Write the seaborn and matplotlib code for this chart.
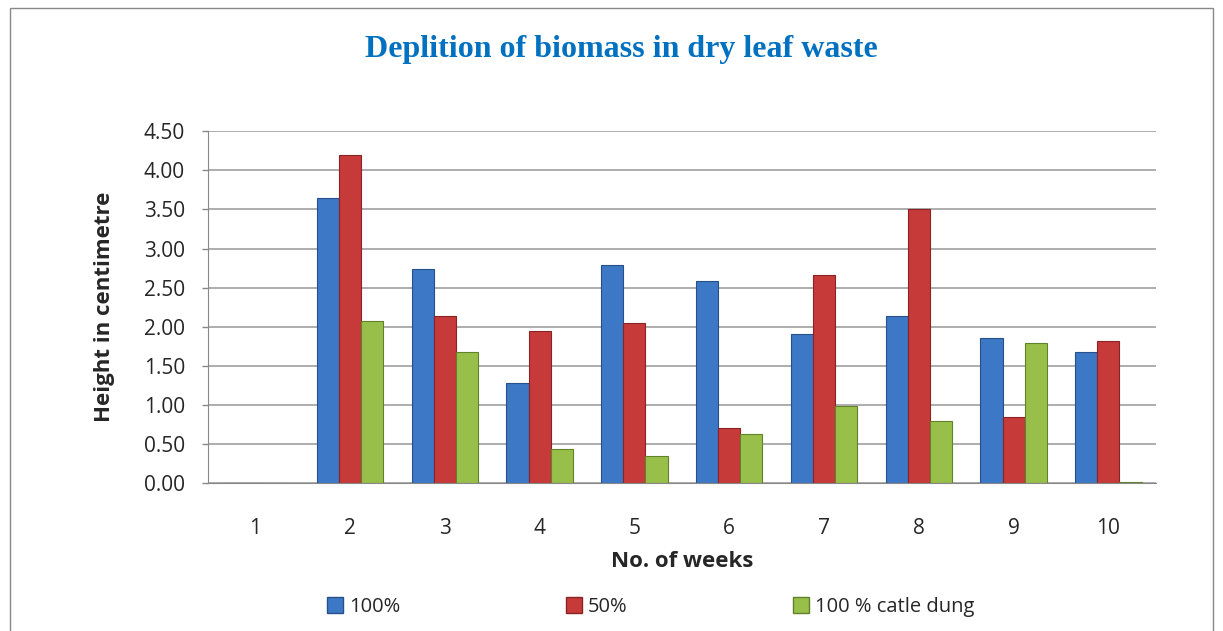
import pandas as pd
import numpy as np
import matplotlib
matplotlib.use("Agg")
import matplotlib.pyplot as plt
import seaborn as sns
from matplotlib.patches import Rectangle

weeks = ["1", "2", "3", "4", "5", "6", "7", "8", "9", "10"]
full_100 = [0.0, 3.64, 2.74, 1.28, 2.79, 2.58, 1.91, 2.14, 1.85, 1.68]
half_50 = [0.0, 4.20, 2.14, 1.95, 2.05, 0.71, 2.66, 3.51, 0.84, 1.82]
catle_dung = [0.0, 2.07, 1.68, 0.43, 0.35, 0.63, 0.99, 0.79, 1.79, 0.01]
series_names = ["100%", "50%", "100 % catle dung"]
colors = ["#3d78c6", "#c63a3a", "#98bf4a"]
edges = ["#25508a", "#8a2424", "#62822a"]

df = pd.DataFrame({"week": weeks * 3,
                   "value": full_100 + half_50 + catle_dung,
                   "series": np.repeat(series_names, len(weeks))})

sns.set_style("white")
plt.rcParams['font.family'] = ['Open Sans', 'DejaVu Sans']

fig = plt.figure(figsize=(12.23, 6.31), dpi=100)
ax = fig.add_axes([0.170, 0.2345, 0.775, 0.5575])

sns.barplot(data=df, x="week", y="value", hue="series", order=weeks,
            hue_order=series_names, palette=colors, width=0.7,
            saturation=1, ax=ax, legend=False)

# darker outlines per series
for cont, ec in zip(ax.containers, edges):
    for bar in cont:
        bar.set_edgecolor(ec)
        bar.set_linewidth(0.8)

ax.set_ylim(0, 4.5)
ax.set_xlim(-0.5, 9.5)
yt = np.arange(0, 4.51, 0.5)
ax.set_yticks(yt)
ax.set_yticklabels([f"{v:.2f}" for v in yt], fontsize=15)
ax.tick_params(axis='x', labelsize=15, length=0, pad=25)
ax.tick_params(axis='y', length=4.5, width=1, color="#888888", left=True, pad=12)
ax.yaxis.grid(True, color="#a0a0a0", linewidth=1.2)
ax.set_axisbelow(True)
for s in ["top", "right"]:
    ax.spines[s].set_visible(False)
ax.spines["left"].set_color("#888888")
ax.spines["bottom"].set_color("#888888")

ax.set_xlabel("No. of weeks", fontsize=16, fontweight="bold", va="center")
ax.xaxis.set_label_coords(0.5, -0.222)
ax.set_ylabel("Height in centimetre", fontsize=16, fontweight="bold", va="center")
ax.yaxis.set_label_coords(-0.109, 0.5)

fig.text(0.508, 0.922, "Deplition of biomass in dry leaf waste", ha="center", va="center",
         fontsize=23, fontweight="bold", color="#0070c0", family="Liberation Serif")

handles = [Rectangle((0, 0), 1, 1, facecolor=c, edgecolor=e) for c, e in zip(colors, edges)]
fig.legend(handles, series_names, loc="center", bbox_to_anchor=(0.532, 0.038), ncol=3,
           frameon=False, fontsize=14.5, handlelength=0.8, handleheight=0.8,
           handletextpad=0.3, columnspacing=8.2)

# outer chart frame
fig.patches.append(Rectangle((0.008, -0.05), 0.984, 1.037, transform=fig.transFigure,
                             fill=False, edgecolor="#888888", linewidth=1))

fig.savefig("out.png", dpi=100)
